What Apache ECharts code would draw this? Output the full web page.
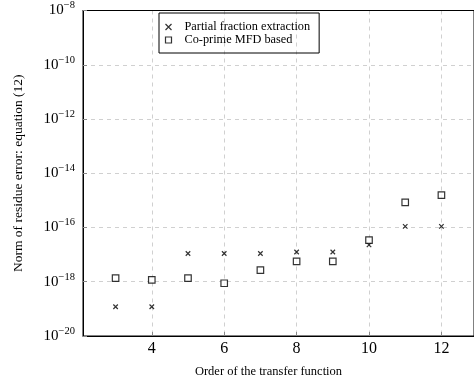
<!DOCTYPE html>
<html>
<head>
<meta charset="utf-8">
<script src="https://cdn.jsdelivr.net/npm/echarts@6/dist/echarts.min.js"></script>
<style>
  html, body { margin: 0; padding: 0; background: #fff; }
  #chart { width: 474px; height: 383px; }
</style>
</head>
<body>
<div id="chart"></div>
<script>
// order of the transfer function
const orders = [3, 4, 5, 6, 7, 8, 9, 10, 11, 12]
// residue error norms
const partialFraction = [1.2e-19, 1.2e-19, 1.1e-17, 1.1e-17, 1.1e-17, 1.25e-17, 1.25e-17, 2.3e-17, 1.1e-16, 1.1e-16]
const coprimeMFD = [1.35e-18, 1.17e-18, 1.35e-18, 8.8e-19, 2.7e-18, 5.6e-18, 5.6e-18, 3.4e-17, 8.5e-16, 1.55e-15]

const serif = 'Liberation Serif'
const crossPath = 'path://M0,0L10,10M10,0L0,10'

const chart = echarts.init(document.getElementById('chart'))

chart.setOption({
  animation: false,
  textStyle: { fontFamily: serif, color: '#000' },
  grid: {
    left: 83,
    top: 10,
    right: -1,
    bottom: 46,
    show: true,
    borderColor: '#000',
    borderWidth: 1
  },
  legend: {
    left: 159,
    top: 13,
    orient: 'vertical',
    padding: [8, 9, 7, 4],
    itemGap: 1,
    itemWidth: 14,
    itemHeight: 6,
    borderColor: '#000',
    borderWidth: 1,
    textStyle: { fontFamily: serif, fontSize: 12.3, color: '#000', padding: [0, 0, 0, 4] },
    data: [
      { name: 'Partial fraction extraction', icon: 'path://M0,0L6,6M6,0L0,6',
        itemStyle: { color: 'none', borderColor: '#000', borderWidth: 1.2 } },
      { name: 'Co-prime MFD based', icon: 'path://M0,0L6,0L6,6L0,6Z',
        itemStyle: { color: '#fff', borderColor: '#000', borderWidth: 1.2 } }
    ]
  },
  xAxis: [
    {
      type: 'value',
      min: 2.1,
      max: 12.9,
      name: 'Order of the transfer function',
      nameLocation: 'middle',
      nameGap: 29,
      nameTextStyle: { fontFamily: serif, fontSize: 12.5, color: '#000', padding: [0, 20, 0, 0] },
      axisLine: { lineStyle: { color: '#000' } },
      axisTick: { inside: true, length: 4, lineStyle: { color: '#888' } },
      axisLabel: {
        margin: 5,
        fontFamily: serif,
        fontSize: 16,
        color: '#000',
        showMinLabel: false,
        showMaxLabel: false
      },
      splitLine: { show: true, lineStyle: { color: '#d0d0d0', type: [4, 4] } }
    },
    {
      // top frame line, drawn over the dashed grid line
      type: 'value',
      position: 'top',
      min: 2.1,
      max: 12.9,
      axisLine: { show: true, lineStyle: { color: '#000' } },
      axisTick: { show: false },
      axisLabel: { show: false },
      splitLine: { show: false }
    }
  ],
  yAxis: {
    type: 'log',
    logBase: 10,
    min: 1e-20,
    max: 1e-8,
    interval: 2,
    name: 'Norm of residue error: equation (12)',
    nameLocation: 'middle',
    nameGap: 58,
    nameTextStyle: { fontFamily: serif, fontSize: 13.5, color: '#000' },
    axisLine: { lineStyle: { color: '#000' } },
    axisTick: { inside: true, length: 4, lineStyle: { color: '#888' } },
    axisLabel: {
      margin: 8,
      formatter: function (v) {
        const e = Math.round(Math.log10(v))
        return '{b|10}{s|\u2212' + Math.abs(e) + '}'
      },
      rich: {
        b: { fontFamily: serif, fontSize: 15, color: '#000', lineHeight: 18 },
        s: { fontFamily: serif, fontSize: 10.5, color: '#000', verticalAlign: 'top', padding: [0, 0, 10, 0] }
      }
    },
    splitLine: { show: true, lineStyle: { color: '#d0d0d0', type: [4, 4] } }
  },
  series: [
    {
      name: 'Partial fraction extraction',
      type: 'scatter',
      symbol: crossPath,
      symbolSize: 4.5,
      itemStyle: { color: 'none', borderColor: '#000', borderWidth: 1.2 },
      data: orders.map((o, i) => [o, partialFraction[i]])
    },
    {
      name: 'Co-prime MFD based',
      type: 'scatter',
      symbol: 'rect',
      symbolSize: 6.5,
      itemStyle: { color: '#fff', borderColor: '#000', borderWidth: 1.2 },
      data: orders.map((o, i) => [o, coprimeMFD[i]])
    }
  ]
})
</script>
</body>
</html>
